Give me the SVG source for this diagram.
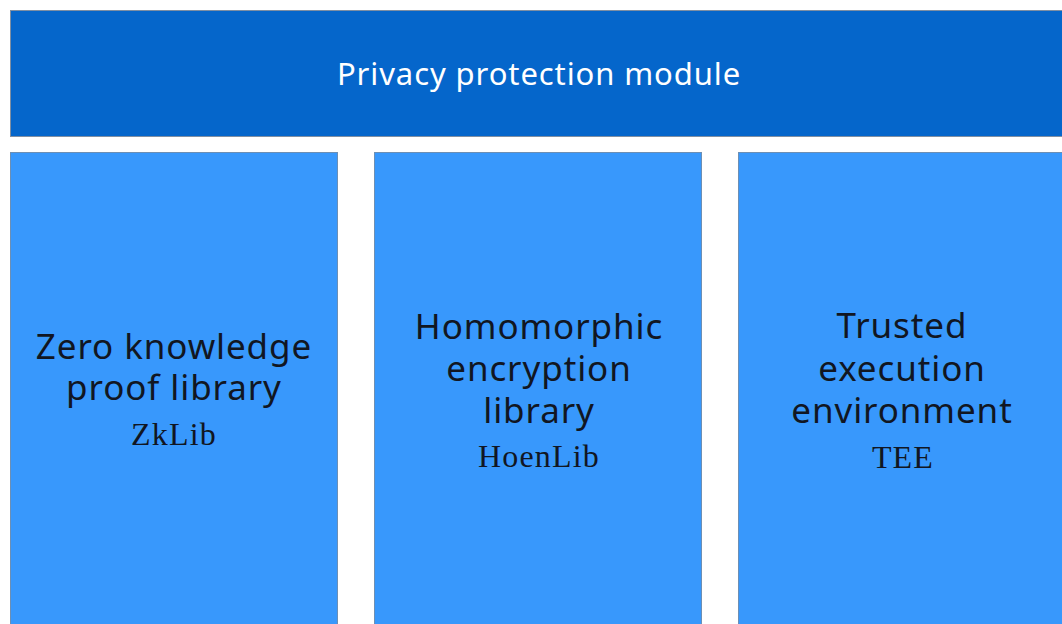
<svg xmlns="http://www.w3.org/2000/svg" width="1062" height="624" viewBox="0 0 1062 624">
  <style>
    .bar { fill: #0566cb; stroke: #7f8fa3; stroke-width: 1; }
    .box { fill: #3898fc; stroke: #6d8fb4; stroke-width: 1; }
    .title { font-family: "Noto Sans", "Open Sans", sans-serif; font-size: 31px; letter-spacing: 0.9px; fill: #ffffff; text-anchor: middle; }
    .label { font-family: "Noto Sans", "Open Sans", sans-serif; font-size: 35px; letter-spacing: 0.9px; fill: #111622; text-anchor: middle; }
    .code { font-family: "Liberation Serif", "DejaVu Serif", serif; font-size: 32px; letter-spacing: 1.2px; fill: #111622; text-anchor: middle; }
  </style>
  <rect width="1062" height="624" fill="#ffffff"/>

  <g id="privacy-module">
    <rect class="bar" x="10.5" y="10.5" width="1060" height="126"/>
    <text class="title" x="539" y="85">Privacy protection module</text>
  </g>

  <g id="zklib">
    <rect class="box" x="10.5" y="152.5" width="327" height="480"/>
    <text class="label" x="174" y="359">Zero knowledge</text>
    <text class="label" x="174" y="400">proof library</text>
    <text class="code" x="174" y="445">ZkLib</text>
  </g>

  <g id="hoenlib">
    <rect class="box" x="374.5" y="152.5" width="327" height="480"/>
    <text class="label" x="539" y="339">Homomorphic</text>
    <text class="label" x="539" y="381">encryption</text>
    <text class="label" x="539" y="423">library</text>
    <text class="code" x="539" y="467">HoenLib</text>
  </g>

  <g id="tee">
    <rect class="box" x="738.5" y="152.5" width="330" height="480"/>
    <text class="label" x="902" y="338">Trusted</text>
    <text class="label" x="902" y="381">execution</text>
    <text class="label" x="902" y="423">environment</text>
    <text class="code" x="903" y="468">TEE</text>
  </g>

  <g id="connectors"></g>
</svg>
